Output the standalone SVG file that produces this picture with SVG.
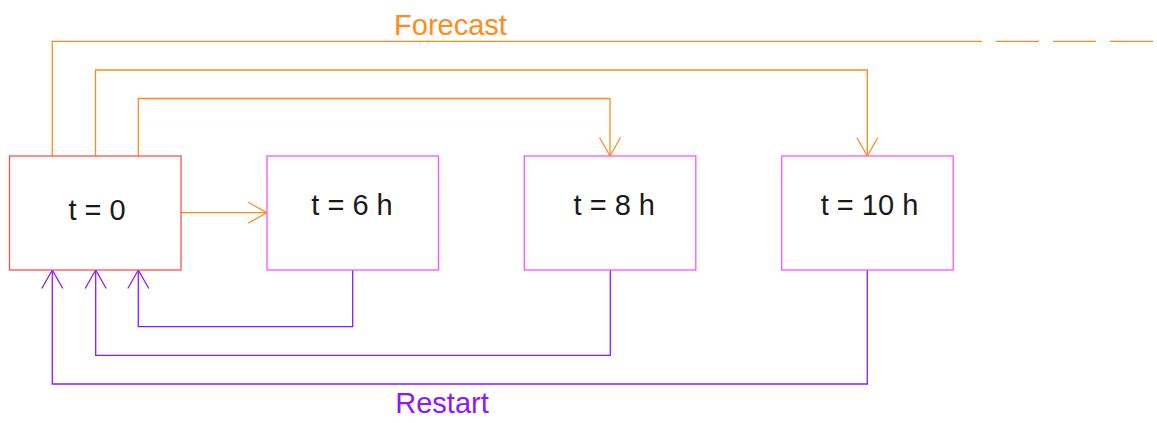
<svg xmlns="http://www.w3.org/2000/svg" width="1157" height="423" viewBox="0 0 1157 423">
  <style>
    .box { fill: #ffffff; stroke-width: 1.3; }
    .t0 { stroke: #ff5050; }
    .tn { stroke: #ff50ff; }
    .lbl { font-family: "Liberation Sans", Arial, sans-serif; font-size: 29px; fill: #1a1a1a; text-anchor: middle; }
    .fc { fill: none; stroke: #ff8c1a; stroke-width: 1.3; }
    .rs { fill: none; stroke: #8a1aff; stroke-width: 1.3; }
    .cap { font-family: "Liberation Sans", Arial, sans-serif; font-size: 29px; text-anchor: middle; }
  </style>
  <defs>
    <marker id="headFc" markerUnits="userSpaceOnUse" markerWidth="24" markerHeight="26" refX="20" refY="12" orient="auto" viewBox="0 0 24 24">
      <path d="M1.5,1.5 L20,12 L1.5,22.5" fill="none" stroke="#ff8c1a" stroke-width="1.3"/>
    </marker>
    <marker id="headRs" markerUnits="userSpaceOnUse" markerWidth="24" markerHeight="26" refX="20" refY="12" orient="auto" viewBox="0 0 24 24">
      <path d="M1.5,1.5 L20,12 L1.5,22.5" fill="none" stroke="#8a1aff" stroke-width="1.3"/>
    </marker>
  </defs>

  <g id="connectors">
    <!-- forecast connectors -->
    <path class="fc" d="M52.3,156 V41.3 H982"/>
    <path class="fc" d="M996,41.3 H1039 M1053,41.3 H1096 M1110,41.3 H1153"/>
    <path class="fc" d="M95.5,156 V70 H867.3 V156" marker-end="url(#headFc)"/>
    <path class="fc" d="M138.3,156 V98.5 H610 V156" marker-end="url(#headFc)"/>
    <path class="fc" d="M181,212.7 H266.7" marker-end="url(#headFc)"/>

    <!-- restart connectors -->
    <path class="rs" d="M352.7,270 V326.7 H138.3 V270" marker-end="url(#headRs)"/>
    <path class="rs" d="M610.3,270 V355.3 H95.7 V270" marker-end="url(#headRs)"/>
    <path class="rs" d="M867.3,270 V384 H52.3 V270" marker-end="url(#headRs)"/>
  </g>

  <g id="node-t0">
    <rect class="box t0" x="9.5" y="156" width="171.5" height="114"/>
    <text class="lbl" x="97" y="220">t = 0</text>
  </g>
  <g id="node-t6">
    <rect class="box tn" x="267" y="156" width="171.5" height="114"/>
    <text class="lbl" x="352" y="215">t = 6 h</text>
  </g>
  <g id="node-t8">
    <rect class="box tn" x="524.3" y="156" width="171.5" height="114"/>
    <text class="lbl" x="614.3" y="215">t = 8 h</text>
  </g>
  <g id="node-t10">
    <rect class="box tn" x="781.7" y="156" width="171.5" height="114"/>
    <text class="lbl" x="869.5" y="215">t = 10 h</text>
  </g>

  <text class="cap" x="450.5" y="35" fill="#ff8c1a">Forecast</text>
  <text class="cap" x="442" y="413" fill="#8a1aff">Restart</text>
</svg>
